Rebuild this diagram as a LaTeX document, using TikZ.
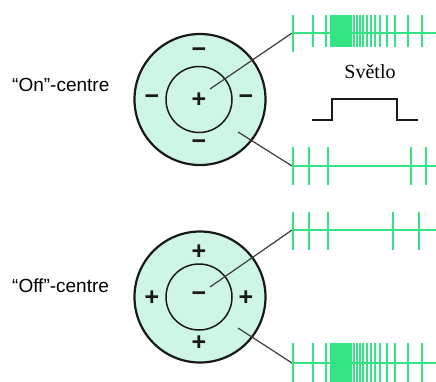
\documentclass[tikz,border=0pt]{standalone}
\usepackage{fontspec}
\setmainfont{Liberation Serif}
\newfontfamily\labfont{Liberation Sans}
\newfontfamily\sgnfont{Liberation Sans Bold}
\definecolor{mint}{RGB}{206,246,228}
\definecolor{spike}{RGB}{50,228,130}
\definecolor{edge}{RGB}{25,25,25}
\begin{document}
\begin{tikzpicture}[x=1pt,y=-1pt,
  outerc/.style={draw=edge,line width=2.2pt,fill=mint},
  innerc/.style={draw=edge,line width=1.5pt},
  sgn/.style={font=\sgnfont\fontsize{25}{25}\selectfont,inner sep=0pt,text=edge},
  lab/.style={font=\labfont\fontsize{19}{19}\selectfont,anchor=base west,inner sep=0pt},
  conn/.style={draw=edge!85,line width=1.2pt},
  train/.style={draw=spike,line width=2.4pt},
  tick/.style={draw=spike,line width=2.3pt}]
\useasboundingbox (0,0) rectangle (436,381);
\clip (0,0) rectangle (436,381);

% ---------- On-centre ----------
\node[lab] (onlab) at (12,91) {“On”-centre};
\draw[outerc] (200,99.5) circle (65.5);
\draw[innerc] (199,99.5) circle (33);
\node[sgn] (onc) at (199,100) {+};
\node[sgn] (ont) at (199,53) {−};
\node[sgn] (onb) at (199,145) {−};
\node[sgn] (onl) at (152,100) {−};
\node[sgn] (onr) at (246,100) {−};
\coordinate (onIn) at (210,89);
\coordinate (onOut) at (238,132);
\coordinate (tr1) at (292,33);
\coordinate (tr2) at (292,166);
\draw[conn] (onIn) -- (tr1);
\draw[conn] (onOut) -- (tr2);

% train 1 (dense)
\draw[train] (tr1) -- (436,33);
\draw[tick] (293,15) -- (293,52);
\foreach \x in {313,326,331,333,335,337,339,341,343,345,347,349,351,354,357,360,363,367,371,375,380,387,395,408,422}
  \draw[tick] (\x,15) -- (\x,47);

% light
\node[font=\fontsize{20}{20}\selectfont,anchor=base,inner sep=0pt] (light) at (370,78) {Světlo};
\draw[edge,line width=2pt] (312,120) -- (332,120) -- (332,99) -- (397,99) -- (397,120) -- (418,120);

% train 2
\draw[train] (tr2) -- (436,166);
\foreach \x in {293,309,328,411,426}
  \draw[tick] (\x,147) -- (\x,185);

% ---------- Off-centre ----------
\node[lab] (offlab) at (12,292) {“Off”-centre};
\draw[outerc] (200,297) circle (65.5);
\draw[innerc] (199,297) circle (33);
\node[sgn] (offc) at (199,297) {−};
\node[sgn] (offt) at (199,252) {+};
\node[sgn] (offb) at (199,343) {+};
\node[sgn] (offl) at (152,298) {+};
\node[sgn] (offr) at (246,298) {+};
\coordinate (offIn) at (210,287);
\coordinate (offOut) at (238,328);
\coordinate (tr3) at (292,230);
\coordinate (tr4) at (292,363);
\draw[conn] (offIn) -- (tr3);
\draw[conn] (offOut) -- (tr4);

% train 3
\draw[train] (tr3) -- (436,230);
\foreach \x in {293,309,328,393,419}
  \draw[tick] (\x,212) -- (\x,250);

% train 4 (dense)
\draw[train] (tr4) -- (436,363);
\foreach \x in {293,313,326,331,333,335,337,339,341,343,345,347,349,351,354,357,360,363,367,371,375,380,387,395,408,422}
  \draw[tick] (\x,343) -- (\x,383);
\end{tikzpicture}
\end{document}
